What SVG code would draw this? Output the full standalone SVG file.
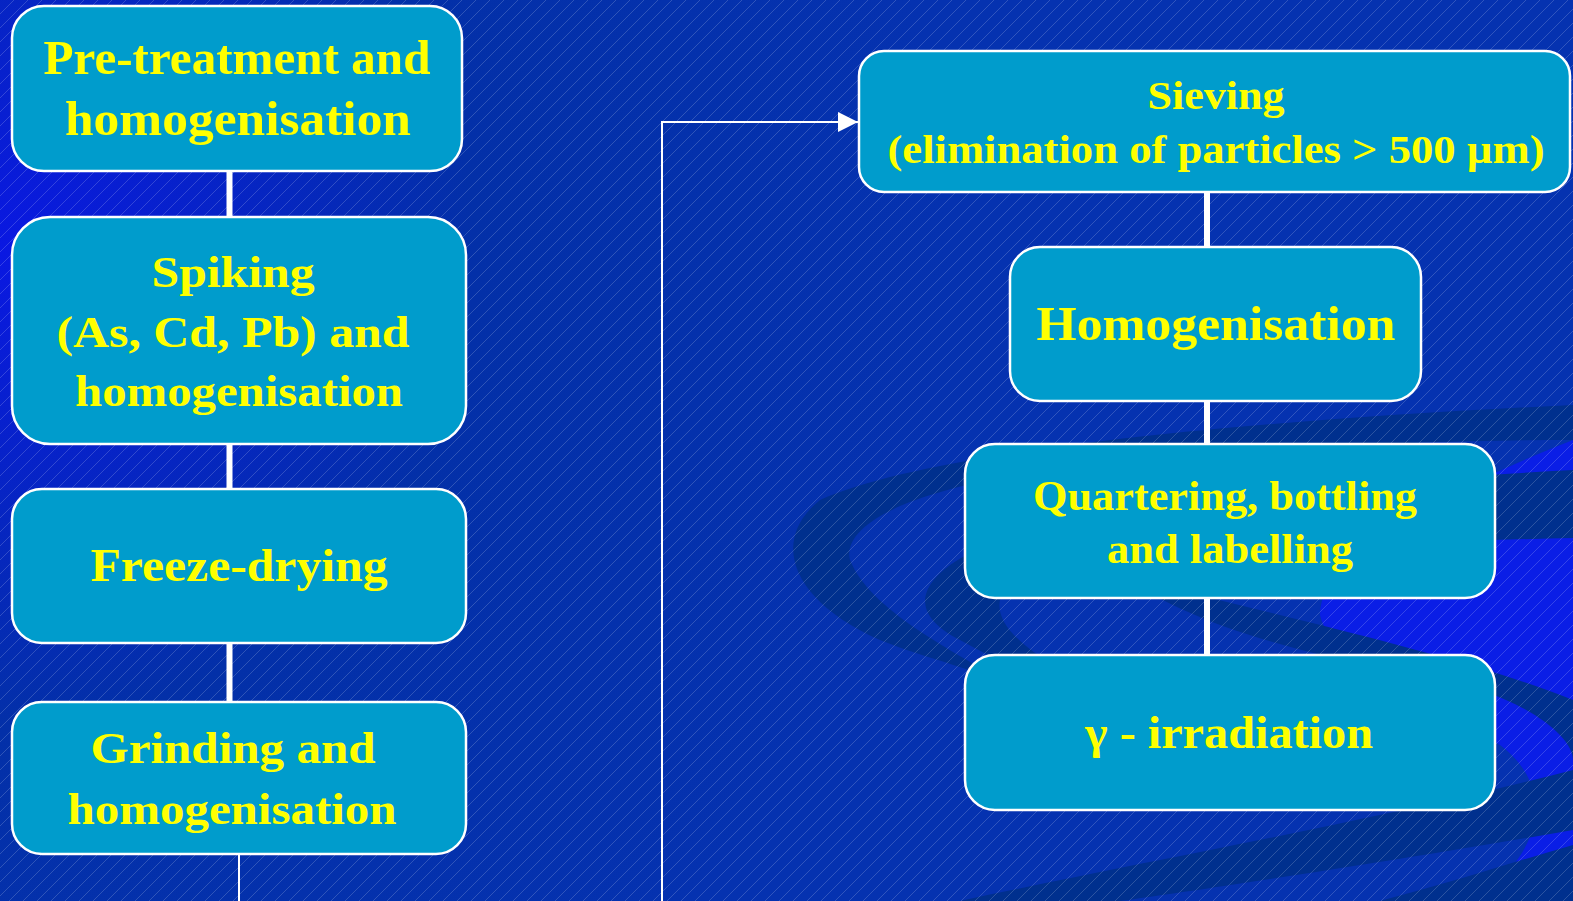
<svg xmlns="http://www.w3.org/2000/svg" width="1573" height="901" viewBox="0 0 1573 901">
<defs>
<radialGradient id="bg" cx="0" cy="250" r="950" gradientUnits="userSpaceOnUse">
<stop offset="0" stop-color="#0a18e2"/>
<stop offset="0.5" stop-color="#0330a8"/>
<stop offset="1" stop-color="#0532b0"/>
</radialGradient>
<pattern id="hatch" width="14" height="14" patternUnits="userSpaceOnUse">
<path d="M-3.5,3.5 L3.5,-3.5 M0,14 L14,0 M10.5,17.5 L17.5,10.5" stroke="#ffffff" stroke-opacity="0.22" stroke-width="0.8"/>
</pattern>
<marker id="arrow" viewBox="0 0 20 20" refX="20" refY="10" markerWidth="20" markerHeight="20" markerUnits="userSpaceOnUse" orient="auto">
<path d="M0,0 L20,10 L0,20 Z" fill="#ffffff"/>
</marker>
<style>
.box{fill:#009ccc;stroke:#ffffff;stroke-width:2.5}
.t{font-family:"Liberation Serif","Times New Roman",serif;font-weight:bold;fill:#ffff00;text-anchor:middle}
.trunk{stroke:#ffffff;stroke-width:6;fill:none}
.thin{stroke:#ffffff;stroke-width:2;fill:none}
.dark{fill:#00308e}
.bright{fill:#0a1ee6}
</style>
</defs>
<g id="background">
<rect width="1573" height="901" fill="url(#bg)"/>
<path class="bright" d="M1573,440 L1573,901 L1470,901 C1540,860 1560,790 1500,745 C1420,700 1330,660 1320,615 C1320,560 1420,500 1573,440 Z"/>
<path class="dark" d="M1573,405 C1250,420 930,450 820,500 C770,540 790,600 880,640 C930,660 980,670 1020,690 C950,650 870,610 850,560 C840,520 930,480 1100,465 C1300,445 1450,440 1573,440 Z"/>
<path class="dark" d="M1573,470 C1350,482 1150,500 1000,540 C920,570 900,610 960,640 C1050,690 1150,720 1250,760 C1120,700 990,650 1000,600 C1020,560 1250,545 1573,538 Z"/>
<path class="dark" d="M1100,560 C1200,640 1350,660 1480,690 C1540,710 1573,740 1573,760 L1573,700 C1500,670 1380,640 1300,620 C1200,595 1130,580 1100,560 Z"/>
<path class="dark" d="M960,901 C1150,860 1380,820 1573,770 L1573,830 C1400,860 1200,890 1120,901 Z"/>
<path class="dark" d="M1380,901 C1460,880 1520,860 1573,845 L1573,901 Z"/>
<rect width="1573" height="901" fill="url(#hatch)"/>
</g>
<g id="connectors">
<line class="trunk" x1="229.5" y1="170" x2="229.5" y2="219"/>
<line class="trunk" x1="229.5" y1="442" x2="229.5" y2="491"/>
<line class="trunk" x1="229.5" y1="641" x2="229.5" y2="704"/>
<line class="thin" x1="239" y1="853" x2="239" y2="901"/>
<polyline class="thin" points="662,901 662,122 858,122" marker-end="url(#arrow)"/>
<line class="trunk" x1="1207" y1="187" x2="1207" y2="249"/>
<line class="trunk" x1="1207" y1="399" x2="1207" y2="446"/>
<line class="trunk" x1="1207" y1="593" x2="1207" y2="657"/>
</g>
<g id="n1">
<rect class="box" x="12" y="6" width="450" height="165" rx="32"/>
<text class="t" x="237" y="74" font-size="48" textLength="387" lengthAdjust="spacingAndGlyphs">Pre-treatment and</text>
<text class="t" x="238" y="135" font-size="48" textLength="346" lengthAdjust="spacingAndGlyphs">homogenisation</text>
</g>
<g id="n2">
<rect class="box" x="12" y="217" width="454" height="227" rx="38"/>
<text class="t" x="233" y="287" font-size="45" textLength="163" lengthAdjust="spacingAndGlyphs">Spiking</text>
<text class="t" x="233" y="347" font-size="45" textLength="353" lengthAdjust="spacingAndGlyphs">(As, Cd, Pb) and</text>
<text class="t" x="239" y="406" font-size="45" textLength="328" lengthAdjust="spacingAndGlyphs">homogenisation</text>
</g>
<g id="n3">
<rect class="box" x="12" y="489" width="454" height="154" rx="30"/>
<text class="t" x="239" y="581" font-size="46" textLength="297" lengthAdjust="spacingAndGlyphs">Freeze-drying</text>
</g>
<g id="n4">
<rect class="box" x="12" y="702" width="454" height="152" rx="30"/>
<text class="t" x="233" y="763" font-size="45" textLength="285" lengthAdjust="spacingAndGlyphs">Grinding and</text>
<text class="t" x="232" y="824" font-size="45" textLength="329" lengthAdjust="spacingAndGlyphs">homogenisation</text>
</g>
<g id="n5">
<rect class="box" x="859" y="51" width="711" height="141" rx="25"/>
<text class="t" x="1216" y="109" font-size="40" textLength="137" lengthAdjust="spacingAndGlyphs">Sieving</text>
<text class="t" x="1216" y="163" font-size="40" textLength="657" lengthAdjust="spacingAndGlyphs">(elimination of particles &gt; 500 µm)</text>
</g>
<g id="n6">
<rect class="box" x="1010" y="247" width="411" height="154" rx="30"/>
<text class="t" x="1216" y="340" font-size="48" textLength="359" lengthAdjust="spacingAndGlyphs">Homogenisation</text>
</g>
<g id="n7">
<rect class="box" x="965" y="444" width="530" height="154" rx="30"/>
<text class="t" x="1225" y="510" font-size="43" textLength="384" lengthAdjust="spacingAndGlyphs">Quartering, bottling</text>
<text class="t" x="1230" y="563" font-size="43" textLength="246" lengthAdjust="spacingAndGlyphs">and labelling</text>
</g>
<g id="n8">
<rect class="box" x="965" y="655" width="530" height="155" rx="30"/>
<text class="t" x="1229" y="748" font-size="46" textLength="288" lengthAdjust="spacingAndGlyphs">γ - irradiation</text>
</g>
</svg>
